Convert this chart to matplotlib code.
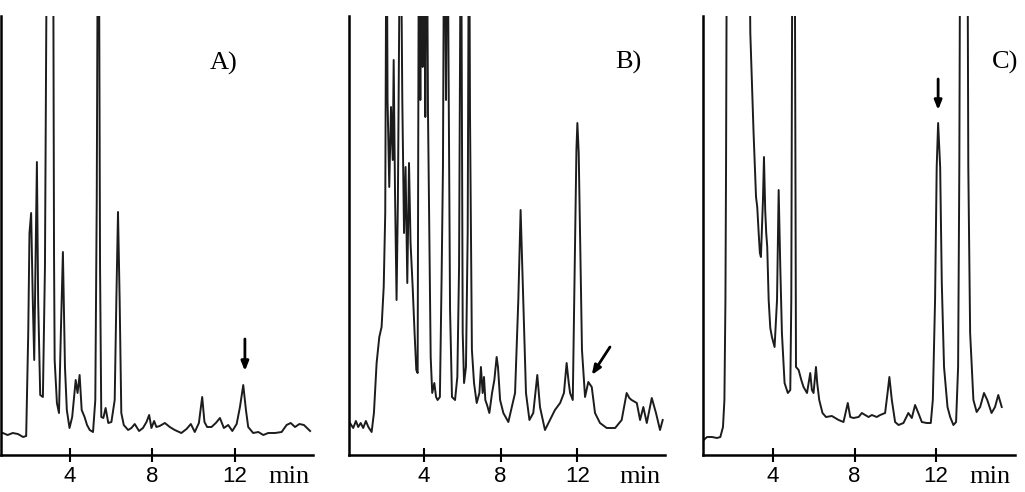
import matplotlib
matplotlib.use("Agg")
import matplotlib.pyplot as plt

# retention time (min) / detector signal (arbitrary units, 439 = top of frame)
A_time = [0.77, 1.00, 1.25, 1.50, 1.75, 1.90, 2.00, 2.06, 2.14, 2.22,
          2.29, 2.35, 2.42, 2.48, 2.58, 2.71, 2.81, 2.92, 3.07, 3.20,
          3.25, 3.28, 3.39, 3.49, 3.58, 3.68, 3.78, 3.87, 4.00, 4.13,
          4.30, 4.39, 4.49, 4.59, 4.73, 4.85, 4.98, 5.14, 5.25, 5.32,
          5.40, 5.48, 5.54, 5.64, 5.75, 5.88, 6.03, 6.19, 6.27, 6.35,
          6.43, 6.51, 6.63, 6.84, 7.00, 7.16, 7.37, 7.56, 7.73, 7.86,
          7.97, 8.10, 8.21, 8.37, 8.62, 8.86, 9.10, 9.42, 9.67, 9.88,
          10.07, 10.27, 10.43, 10.54, 10.67, 10.88, 11.09, 11.29, 11.48, 11.69,
          11.89, 12.10, 12.26, 12.42, 12.55, 12.66, 12.90, 13.15, 13.39, 13.63,
          13.96, 14.28, 14.52, 14.72, 14.93, 15.14, 15.36, 15.66]
A_signal = [22, 20, 22, 21, 18, 19, 122, 222, 242, 155,
            95, 188, 293, 155, 60, 58, 188, 600, 700, 600,
            200, 95, 52, 42, 122, 203, 88, 45, 27, 38,
            75, 62, 80, 45, 38, 30, 25, 23, 55, 255,
            700, 188, 38, 37, 47, 32, 33, 55, 155, 243,
            155, 42, 30, 25, 27, 31, 24, 27, 33, 40,
            27, 34, 28, 29, 32, 28, 25, 22, 26, 31,
            23, 32, 58, 33, 28, 28, 32, 37, 27, 30,
            24, 31, 48, 70, 45, 28, 22, 23, 20, 22,
            22, 23, 30, 32, 28, 31, 30, 24]

B_time = [0.14, 0.31, 0.45, 0.57, 0.70, 0.83, 0.97, 1.10, 1.27, 1.39,
          1.53, 1.67, 1.79, 1.90, 1.98, 2.05, 2.10, 2.19, 2.28, 2.37,
          2.42, 2.49, 2.57, 2.64, 2.77, 2.87, 2.96, 3.04, 3.13, 3.22,
          3.30, 3.41, 3.51, 3.60, 3.67, 3.74, 3.81, 3.86, 3.93, 4.00,
          4.07, 4.14, 4.21, 4.28, 4.35, 4.43, 4.54, 4.63, 4.71, 4.83,
          4.92, 4.99, 5.06, 5.15, 5.22, 5.29, 5.36, 5.46, 5.62, 5.74,
          5.83, 5.93, 6.02, 6.09, 6.19, 6.28, 6.35, 6.40, 6.45, 6.50,
          6.61, 6.75, 6.89, 6.97, 7.06, 7.13, 7.20, 7.29, 7.41, 7.55,
          7.67, 7.79, 7.86, 7.97, 8.14, 8.40, 8.75, 8.92, 9.04, 9.18,
          9.32, 9.50, 9.70, 9.91, 10.05, 10.31, 10.57, 10.83, 11.10, 11.30,
          11.44, 11.55, 11.62, 11.76, 11.86, 11.95, 12.00, 12.07, 12.14, 12.24,
          12.40, 12.57, 12.75, 12.92, 13.18, 13.53, 13.97, 14.31, 14.57, 14.71,
          14.83, 15.10, 15.27, 15.44, 15.62, 15.88, 16.10, 16.31, 16.45]
B_signal = [32, 27, 34, 28, 32, 27, 34, 28, 23, 42,
            92, 118, 128, 168, 242, 600, 355, 268, 348, 295,
            395, 262, 155, 255, 600, 355, 222, 288, 172, 292,
            212, 168, 122, 85, 82, 600, 355, 600, 388, 600,
            338, 600, 342, 222, 98, 62, 72, 58, 55, 58,
            178, 288, 600, 355, 600, 362, 145, 58, 55, 78,
            188, 600, 122, 72, 88, 222, 600, 342, 222, 105,
            72, 52, 62, 88, 62, 78, 55, 50, 42, 62,
            75, 98, 88, 55, 42, 33, 62, 155, 245, 155,
            62, 35, 42, 80, 48, 25, 35, 45, 52, 62,
            92, 72, 62, 55, 188, 305, 332, 302, 222, 105,
            58, 73, 68, 42, 32, 27, 27, 35, 62, 57,
            55, 52, 35, 48, 32, 57, 42, 25, 35]

C_time = [0.60, 0.77, 1.01, 1.26, 1.42, 1.55, 1.62, 1.67, 1.70, 1.75,
          2.32, 2.81, 2.89, 3.05, 3.17, 3.23, 3.30, 3.36, 3.41, 3.51,
          3.56, 3.62, 3.67, 3.72, 3.79, 3.87, 3.95, 4.08, 4.20, 4.28,
          4.36, 4.44, 4.57, 4.73, 4.85, 4.90, 4.96, 5.06, 5.13, 5.26,
          5.39, 5.50, 5.67, 5.83, 5.91, 5.99, 6.11, 6.17, 6.27, 6.43,
          6.60, 6.89, 7.22, 7.46, 7.67, 7.79, 7.95, 8.20, 8.36, 8.52,
          8.69, 8.85, 9.09, 9.26, 9.50, 9.62, 9.71, 9.83, 9.99, 10.16,
          10.40, 10.64, 10.81, 10.97, 11.13, 11.30, 11.54, 11.74, 11.84, 11.95,
          12.03, 12.10, 12.20, 12.28, 12.39, 12.56, 12.69, 12.85, 12.98, 13.08,
          13.14, 13.19, 13.37, 13.53, 13.58, 13.67, 13.83, 13.99, 14.16, 14.35,
          14.51, 14.72, 14.89, 15.05, 15.22]
C_signal = [15, 18, 18, 17, 18, 28, 55, 155, 288, 600,
            700, 600, 422, 322, 258, 248, 222, 202, 198, 255,
            298, 245, 222, 208, 155, 127, 118, 108, 155, 265,
            188, 122, 72, 62, 65, 155, 600, 600, 88, 85,
            75, 68, 62, 82, 65, 62, 88, 72, 55, 42,
            38, 39, 35, 33, 52, 38, 37, 38, 42, 40,
            38, 40, 38, 40, 42, 62, 78, 55, 33, 30,
            32, 42, 37, 50, 42, 33, 32, 32, 55, 155,
            288, 332, 288, 172, 88, 48, 38, 30, 33, 88,
            288, 600, 700, 600, 288, 122, 55, 43, 48, 62,
            55, 42, 48, 60, 48]

panel_labels = ["A)", "B)", "C)"]
tick_values = [4, 8, 12]
tick_labels = ["4", "8", "12"]

# arrows marking the analyte peak: (tail, head) in (min, signal)
arrows = [((12.5, 116), (12.5, 84)),
          ((13.70, 108), (12.75, 80)),
          ((12.10, 376), (12.10, 345))]


fig = plt.figure(figsize=(10.25, 4.92), dpi=100)

# axes boxes in figure pixels -> fractions
W, H = 1025.0, 492.0
boxes = [(1, 312), (349, 316), (703, 312)]
xlims = [(0.68, 15.8), (0.09, 16.57), (0.57, 15.87)]
label_pos = [(11.48, 392), (14.64, 393), (15.38, 393)]
min_pos = [14.64, 15.27, 14.64]

traces = [(A_time, A_signal), (B_time, B_signal), (C_time, C_signal)]

for i in range(3):
    left, width = boxes[i]
    ax = fig.add_axes([left / W, 37 / H, width / W, 439 / H])
    t, s = traces[i]
    ax.plot(t, s, color="#1c1c1c", lw=1.4)

    ax.set_xlim(*xlims[i])
    ax.set_ylim(0, 439)

    ax.spines["top"].set_visible(False)
    ax.spines["right"].set_visible(False)
    ax.spines["left"].set_linewidth(1.8)
    ax.spines["bottom"].set_linewidth(1.8)

    ax.set_yticks([])
    ax.set_xticks(tick_values)
    ax.set_xticklabels(tick_labels, fontsize=16, family="Liberation Sans")
    ax.tick_params(axis="x", direction="inout", length=10, width=1.5, pad=3)

    ax.text(label_pos[i][0], label_pos[i][1], panel_labels[i], fontsize=19,
            family="Liberation Serif", ha="center", va="center", clip_on=False)
    ax.text(min_pos[i], -0.0638, "min", transform=ax.get_xaxis_transform(),
            fontsize=19, family="Liberation Serif", ha="center", va="baseline")

    tail, head = arrows[i]
    ax.annotate("", xy=head, xytext=tail,
                arrowprops=dict(arrowstyle="-|>,head_length=0.55,head_width=0.22",
                                color="black", lw=2, shrinkA=0, shrinkB=0))

fig.savefig("out.png", dpi=100)
